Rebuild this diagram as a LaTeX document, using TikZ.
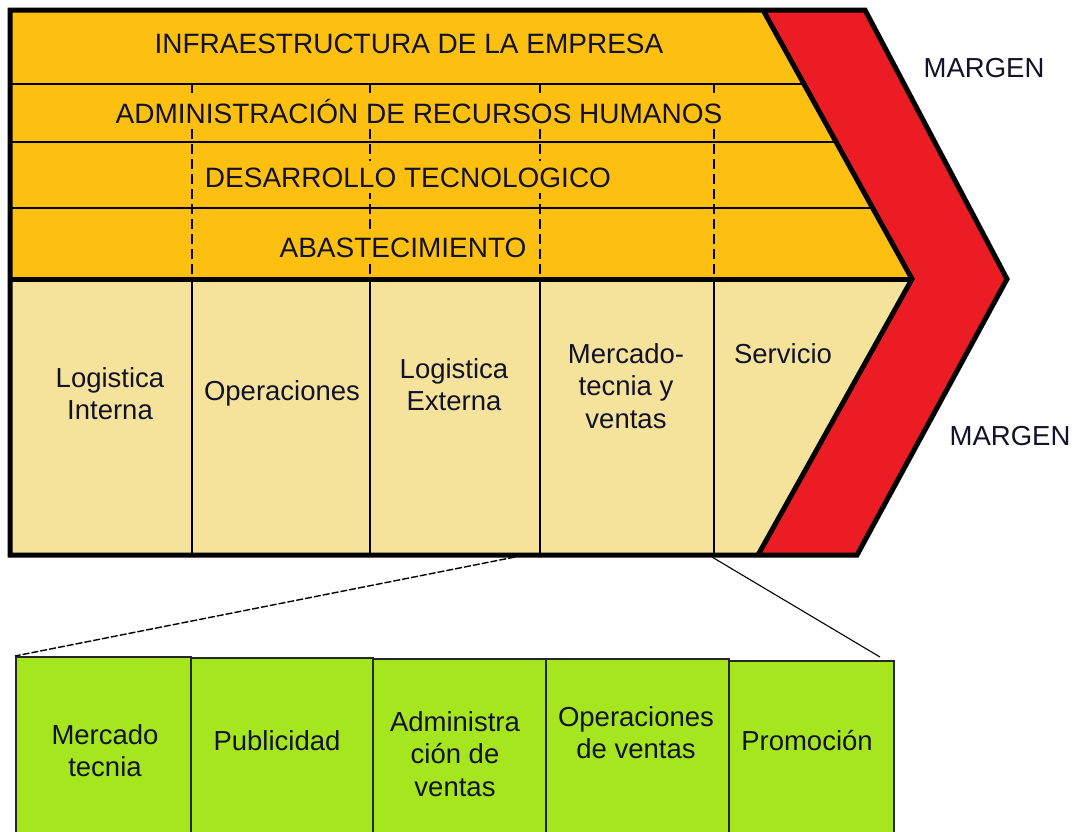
\documentclass[tikz,border=0pt]{standalone}
\usepackage{fontspec}
\setmainfont{Liberation Sans}
\definecolor{orng}{RGB}{254,192,16}
\definecolor{beige}{RGB}{245,227,156}
\definecolor{redm}{RGB}{236,28,36}
\definecolor{grn}{RGB}{166,230,30}
\definecolor{txt}{RGB}{18,18,40}
\begin{document}
\begin{tikzpicture}[x=1pt,y=-1pt,
  lbl/.style={font=\fontsize{27.5}{32.5}\selectfont, text=txt, align=center, inner sep=0pt},
  sup/.style={lbl, font=\fontsize{28}{32.5}\selectfont, fill=orng, inner xsep=12pt, inner ysep=6pt, anchor=base},
  heavy/.style={line width=5pt, line join=miter},
  fine/.style={line width=1.8pt},
  dashv/.style={line width=1.8pt, dash pattern=on 10pt off 5pt},
  gbox/.style={draw=black!85, line width=1.8pt, fill=grn, inner sep=0pt, anchor=north west}]
\useasboundingbox (0,0) rectangle (1075,831);
\fill[white] (0,0) rectangle (1075,831);
\clip (0,0) rectangle (1075,831);
% key coordinates
\coordinate (tl) at (10,10);
\coordinate (dtop) at (763,10);
\coordinate (rtop) at (865,10);
\coordinate (tip) at (1007,279);
\coordinate (itip) at (912,279);
\coordinate (rbot) at (857,555);
\coordinate (dbot) at (758,555);
\coordinate (bl) at (10,555);
\coordinate (ml) at (10,279);
% fills
\fill[orng] (tl) -- (dtop) -- (itip) -- (ml) -- cycle;
\fill[beige] (ml) -- (itip) -- (dbot) -- (bl) -- cycle;
% rows
\draw[fine] (10,84) -- (812,84);
\draw[fine] (10,142) -- (842,142);
\draw[fine] (10,208) -- (880,208);
% dashed verticals (support) and solid verticals (primary)
\foreach \x in {192,370,540,714}{
  \draw[dashv] (\x,84) -- (\x,279);
  \draw[fine] (\x,279) -- (\x,555);
}
% red margin
\fill[redm] (dtop) -- (rtop) -- (tip) -- (rbot) -- (dbot) -- (itip) -- cycle;
\draw[heavy] (tl) -- (rtop) -- (tip) -- (rbot) -- (bl) -- cycle;
\draw[heavy] (dtop) -- (itip) -- (dbot);
\draw[heavy] (ml) -- (itip);
% support activities
\node[sup] (infra) at (409,53) {INFRAESTRUCTURA DE LA EMPRESA};
\node[sup] (rrhh) at (419,123) {ADMINISTRACIÓN DE RECURSOS HUMANOS};
\node[sup] (tec) at (408,187) {DESARROLLO TECNOLOGICO};
\node[sup] (abas) at (403,257) {ABASTECIMIENTO};
\node[lbl, anchor=base] (m1) at (984,77) {MARGEN};
\node[lbl, anchor=base] (m2) at (1010,445) {MARGEN};
% primary activities
\node[lbl, anchor=north] (li) at (110,367) {Logistica\\Interna};
\node[lbl, anchor=base] (op) at (282,400) {Operaciones};
\node[lbl, anchor=north] (le) at (454,358) {Logistica\\Externa};
\node[lbl, anchor=north] (mv) at (626,343) {Mercado-\\tecnia y\\ventas};
\node[lbl, anchor=base] (sv) at (783,363) {Servicio};
% green boxes
\node[gbox, minimum width=175pt, minimum height=200pt] (g1) at (15,656) {};
\node[gbox, minimum width=182pt, minimum height=200pt] (g2) at (190,657) {};
\node[gbox, minimum width=173pt, minimum height=200pt] (g3) at (372,658) {};
\node[gbox, minimum width=183pt, minimum height=200pt] (g4) at (545,658) {};
\node[gbox, minimum width=165pt, minimum height=200pt] (g5) at (728,660) {};
\node[lbl, anchor=north] (t1) at (105,724) {Mercado\\tecnia};
\node[lbl, anchor=base] (t2) at (277,750) {Publicidad};
\node[lbl, anchor=north] (t3) at (455,711) {Administra\\ción de\\ventas};
\node[lbl, anchor=north] (t4) at (636,706) {Operaciones\\de ventas};
\node[lbl, anchor=base] (t5) at (807,750) {Promoción};
% zoom connectors
\coordinate (za) at (515,557);
\coordinate (zb) at (712,557);
\coordinate (ze) at (880,657);
\draw[line width=1.4pt, dash pattern=on 7pt off 2pt] (za) -- (g1.north west);
\draw[line width=1.1pt] (zb) -- (ze);
\end{tikzpicture}
\end{document}
